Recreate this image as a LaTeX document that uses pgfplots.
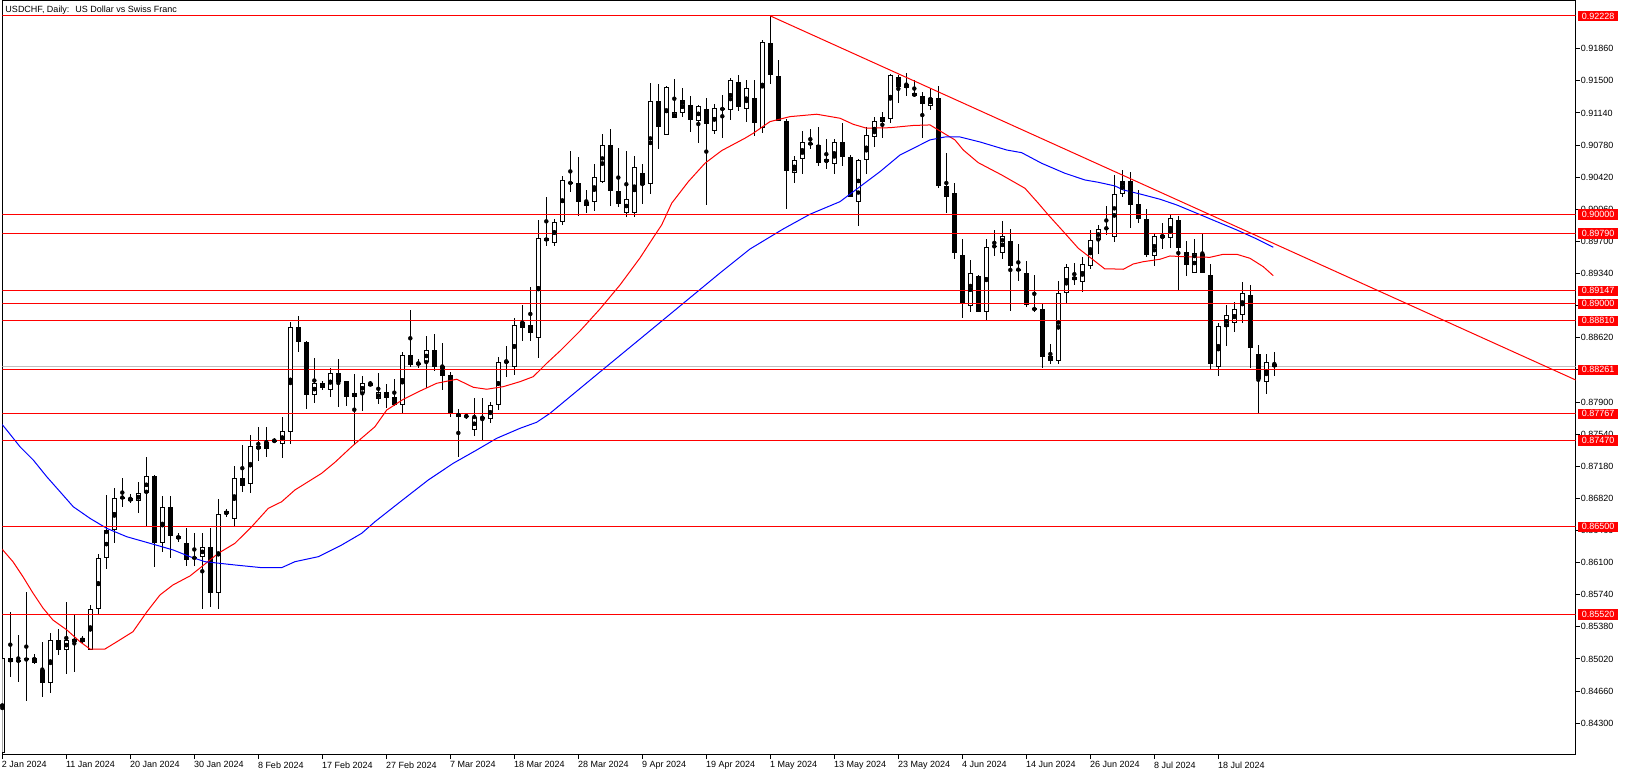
\documentclass[border=0pt]{standalone}
\usepackage{fontspec}
\setmainfont{Liberation Sans}
\usepackage{pgfplots}
\usepackage{pgfplotstable}
\pgfplotsset{compat=1.18}
\pgfplotstableread{
x O H L C
0 0.83970 0.85040 0.83900 0.85027
1 0.85027 0.85542 0.84820 0.84982
2 0.85007 0.85288 0.84764 0.84993
3 0.85004 0.85767 0.84551 0.85027
4 0.85027 0.85075 0.84963 0.84970
5 0.84895 0.85209 0.84596 0.84753
6 0.84753 0.85310 0.84641 0.85228
7 0.85228 0.85352 0.85063 0.85123
8 0.85123 0.85654 0.84854 0.85228
9 0.85240 0.85515 0.84876 0.85213
10 0.85209 0.85277 0.85195 0.85251
11 0.85123 0.85624 0.85123 0.85583
12 0.85583 0.86197 0.85523 0.86149
13 0.86149 0.86858 0.86032 0.86466
14 0.86466 0.86933 0.86323 0.86821
15 0.86836 0.87045 0.86727 0.86824
16 0.86821 0.86866 0.86765 0.86791
17 0.86794 0.87000 0.86660 0.86877
18 0.86877 0.87284 0.86502 0.87068
19 0.87068 0.87082 0.86054 0.86323
20 0.86323 0.86847 0.86222 0.86720
21 0.86720 0.86847 0.86155 0.86402
22 0.86398 0.86435 0.86328 0.86368
23 0.86318 0.86491 0.86066 0.86134
24 0.86168 0.86429 0.86066 0.86138
25 0.86168 0.86429 0.85576 0.86272
26 0.86272 0.86485 0.85605 0.85763
27 0.85763 0.86810 0.85576 0.86642
28 0.86642 0.86698 0.86615 0.86675
29 0.86592 0.87183 0.86502 0.87045
30 0.87045 0.87422 0.86895 0.86962
31 0.86978 0.87531 0.86877 0.87407
32 0.87407 0.87617 0.87243 0.87370
33 0.87370 0.87620 0.87281 0.87449
34 0.87465 0.87494 0.87444 0.87462
35 0.87426 0.87736 0.87269 0.87572
36 0.87561 0.88801 0.87426 0.88738
37 0.88738 0.88868 0.88464 0.88570
38 0.88570 0.88588 0.87822 0.87982
39 0.87982 0.88390 0.87893 0.88110
40 0.88110 0.88136 0.88035 0.88061
41 0.88032 0.88278 0.87960 0.88222
42 0.88222 0.88379 0.87848 0.88128
43 0.88136 0.88136 0.87859 0.87960
44 0.87960 0.88211 0.87419 0.87998
45 0.87998 0.88192 0.87803 0.88110
46 0.88110 0.88136 0.88083 0.88083
47 0.87931 0.88222 0.87875 0.88013
48 0.88013 0.88099 0.87837 0.87949
49 0.87953 0.88155 0.87856 0.87864
50 0.87864 0.88461 0.87781 0.88424
51 0.88424 0.88932 0.88296 0.88319
52 0.88332 0.88383 0.88282 0.88329
53 0.88352 0.88640 0.88054 0.88480
54 0.88480 0.88663 0.88248 0.88296
55 0.88301 0.88562 0.88035 0.88195
56 0.88203 0.88234 0.87729 0.87763
57 0.87774 0.87819 0.87288 0.87736
58 0.87741 0.87774 0.87710 0.87739
59 0.87583 0.87942 0.87523 0.87729
60 0.87729 0.87942 0.87475 0.87721
61 0.87705 0.87897 0.87661 0.87864
62 0.87864 0.88409 0.87811 0.88352
63 0.88357 0.88528 0.88184 0.88341
64 0.88290 0.88839 0.88203 0.88760
65 0.88727 0.88991 0.88588 0.88797
66 0.88764 0.89187 0.88588 0.88677
67 0.88615 0.89941 0.88390 0.89736
68 0.89736 0.90202 0.89649 0.89709
69 0.89683 0.89949 0.89649 0.89922
70 0.89922 0.90437 0.89885 0.90386
71 0.90367 0.90714 0.90258 0.90348
72 0.90356 0.90647 0.89989 0.90146
73 0.90143 0.90277 0.90023 0.90101
74 0.90146 0.90568 0.90045 0.90419
75 0.90370 0.90905 0.90359 0.90778
76 0.90778 0.90961 0.90098 0.90269
77 0.90265 0.90748 0.90086 0.90124
78 0.90023 0.90711 0.89974 0.90173
79 0.90023 0.90658 0.89974 0.90532
80 0.90464 0.90568 0.90120 0.90337
81 0.90341 0.91476 0.90236 0.91271
82 0.91271 0.91462 0.90740 0.90987
83 0.90897 0.91446 0.90894 0.91428
84 0.91081 0.91518 0.91081 0.91148
85 0.91137 0.91417 0.91092 0.91283
86 0.91226 0.91327 0.90931 0.91065
87 0.91047 0.91226 0.90807 0.91215
88 0.91185 0.91308 0.90109 0.91020
89 0.90942 0.91241 0.90905 0.91193
90 0.91186 0.91345 0.90863 0.91184
91 0.91170 0.91529 0.91062 0.91507
92 0.91484 0.91566 0.91163 0.91204
93 0.91182 0.91507 0.91043 0.91417
94 0.91305 0.91507 0.90886 0.91031
95 0.90976 0.91959 0.90919 0.91933
96 0.91922 0.92228 0.91462 0.91563
97 0.91555 0.91734 0.91051 0.91051
98 0.91051 0.91073 0.90061 0.90487
99 0.90463 0.90662 0.90356 0.90610
100 0.90621 0.90939 0.90452 0.90819
101 0.90807 0.90961 0.90733 0.90789
102 0.90778 0.90980 0.90550 0.90583
103 0.90587 0.90845 0.90512 0.90621
104 0.90564 0.90849 0.90456 0.90811
105 0.90815 0.91025 0.90546 0.90643
106 0.90643 0.90670 0.90199 0.90202
107 0.90146 0.90621 0.89877 0.90610
108 0.90610 0.90987 0.90456 0.90890
109 0.90868 0.91092 0.90762 0.91051
110 0.91036 0.91155 0.90863 0.91092
111 0.91073 0.91581 0.91025 0.91563
112 0.91544 0.91566 0.91256 0.91428
113 0.91420 0.91585 0.91334 0.91465
114 0.91364 0.91510 0.91320 0.91327
115 0.91334 0.91379 0.90856 0.91238
116 0.91219 0.91420 0.91174 0.91312
117 0.91308 0.91443 0.90299 0.90322
118 0.90322 0.90688 0.90023 0.90202
119 0.90240 0.90356 0.89500 0.89567
120 0.89545 0.89725 0.88839 0.89014
121 0.88977 0.89492 0.88913 0.89343
122 0.89313 0.89324 0.88909 0.88913
123 0.88913 0.89725 0.88812 0.89642
124 0.89647 0.89829 0.89538 0.89645
125 0.89567 0.89930 0.89500 0.89758
126 0.89703 0.89836 0.88924 0.89426
127 0.89396 0.89672 0.89261 0.89373
128 0.89343 0.89478 0.88969 0.88985
129 0.88951 0.89320 0.88906 0.88935
130 0.88943 0.89014 0.88278 0.88409
131 0.88413 0.88551 0.88326 0.88364
132 0.88357 0.89257 0.88322 0.89119
133 0.89119 0.89447 0.89014 0.89410
134 0.89302 0.89455 0.89212 0.89272
135 0.89246 0.89526 0.89130 0.89443
136 0.89426 0.89829 0.89396 0.89716
137 0.89713 0.89881 0.89563 0.89843
138 0.89848 0.90098 0.89773 0.89846
139 0.89754 0.90445 0.89698 0.90232
140 0.90232 0.90501 0.90195 0.90378
141 0.90378 0.90479 0.89855 0.90112
142 0.90120 0.90277 0.89913 0.89949
143 0.89949 0.90064 0.89530 0.89552
144 0.89534 0.89780 0.89425 0.89758
145 0.89736 0.89904 0.89616 0.89769
146 0.89736 0.89997 0.89630 0.89960
147 0.89941 0.89986 0.89156 0.89630
148 0.89582 0.89705 0.89316 0.89440
149 0.89349 0.89728 0.89343 0.89567
150 0.89556 0.89787 0.89343 0.89349
151 0.89324 0.89447 0.88270 0.88330
152 0.88296 0.88790 0.88195 0.88752
153 0.88738 0.88991 0.88532 0.88873
154 0.88783 0.89018 0.88689 0.88940
155 0.88880 0.89246 0.88790 0.89119
156 0.89097 0.89208 0.88285 0.88509
157 0.88435 0.88536 0.87766 0.88155
158 0.88122 0.88438 0.87991 0.88352
159 0.88326 0.88457 0.88195 0.88296
}\candles
\pgfplotstableread{
x y
-0.5 0.86300
1.33 0.86110
2.58 0.85942
3.83 0.85759
5.08 0.85591
6.33 0.85456
8.08 0.85344
9.71 0.85213
10.96 0.85131
12.83 0.85131
14.33 0.85213
16.33 0.85325
18.08 0.85549
19.71 0.85737
21.33 0.85849
23.46 0.85950
24.92 0.86054
27.00 0.86204
29.08 0.86316
31.17 0.86502
33.25 0.86708
34.92 0.86782
36.58 0.86914
39.92 0.87101
41.58 0.87224
43.67 0.87399
46.58 0.87623
48.05 0.87810
50.12 0.87930
52.21 0.88023
54.30 0.88110
56.80 0.88155
58.87 0.88065
60.55 0.88043
62.62 0.88072
64.71 0.88128
66.37 0.88184
68.05 0.88334
69.71 0.88472
72.21 0.88696
74.71 0.88943
77.21 0.89212
79.71 0.89515
81.58 0.89772
82.42 0.89885
83.67 0.90128
85.75 0.90370
87.83 0.90576
89.92 0.90718
92.83 0.90857
93.87 0.90913
95.96 0.91043
98.46 0.91099
101.80 0.91126
104.71 0.91081
106.37 0.91013
108.05 0.90969
110.96 0.90975
113.87 0.91000
115.96 0.91006
119.08 0.90838
120.12 0.90725
121.99 0.90583
124.92 0.90445
127.83 0.90296
129.50 0.90128
130.75 0.89997
132.83 0.89791
134.50 0.89623
137.83 0.89391
139.08 0.89391
140.12 0.89388
141.37 0.89447
142.62 0.89473
144.71 0.89500
145.96 0.89537
147.62 0.89529
150.96 0.89522
152.62 0.89556
154.30 0.89556
155.96 0.89511
157.62 0.89417
158.87 0.89316
}\mared
\pgfplotstableread{
x y
-0.5 0.87700
0.55 0.87586
2.21 0.87399
3.87 0.87250
5.55 0.87063
7.21 0.86895
8.87 0.86726
10.96 0.86596
13.05 0.86484
15.55 0.86390
18.46 0.86316
21.37 0.86241
23.46 0.86166
25.33 0.86110
29.08 0.86073
32.42 0.86043
34.92 0.86043
36.58 0.86110
39.50 0.86166
42.42 0.86297
44.92 0.86428
46.58 0.86558
49.71 0.86779
53.25 0.87026
56.37 0.87213
59.30 0.87362
61.80 0.87493
64.71 0.87605
66.80 0.87673
68.46 0.87773
69.71 0.87866
74.71 0.88237
79.71 0.88606
84.71 0.88976
89.71 0.89346
93.46 0.89615
97.62 0.89840
100.96 0.90005
104.71 0.90146
107.21 0.90314
109.71 0.90482
112.21 0.90669
115.96 0.90838
117.83 0.90871
119.71 0.90871
122.21 0.90815
125.55 0.90725
127.42 0.90695
129.92 0.90576
132.83 0.90464
135.33 0.90389
137.00 0.90363
139.08 0.90322
140.12 0.90277
142.21 0.90232
144.71 0.90173
146.80 0.90109
149.30 0.90016
151.80 0.89922
154.30 0.89829
156.80 0.89728
158.87 0.89635
}\mablue
\begin{document}
\begin{tikzpicture}
\useasboundingbox (0,0) rectangle (1628pt,776pt);
\begin{axis}[
  at={(2.3pt,21pt)}, anchor=south west,
  scale only axis, width=1573.4pt, height=754.5pt,
  xmin=0, xmax=196.67, ymin=0.83943, ymax=0.92401,
  scaled ticks=false,
  axis line style={black, line width=1pt},
  tick style={black, line width=1pt},
  tick align=outside, major tick length=4pt,
  xtick pos=left, ytick pos=right,
  xtick={0,8,...,152},
  xticklabels={2 Jan 2024, 11 Jan 2024, 20 Jan 2024, 30 Jan 2024, 8 Feb 2024, 17 Feb 2024, 27 Feb 2024, 7 Mar 2024, 18 Mar 2024, 28 Mar 2024, 9 Apr 2024, 19 Apr 2024, 1 May 2024, 13 May 2024, 23 May 2024, 4 Jun 2024, 14 Jun 2024, 26 Jun 2024, 8 Jul 2024, 18 Jul 2024},
  xticklabel style={anchor=north west, inner sep=0pt, xshift=-0.5pt, yshift=-2.5pt, font=\fontsize{9}{10}\selectfont},
  ytick={0.8430,0.8466,0.8502,0.8538,0.8574,0.8610,0.8646,0.8682,0.8718,0.8754,0.8790,0.8826,0.8862,0.8898,0.8934,0.8970,0.9006,0.9042,0.9078,0.9114,0.9150,0.9186},
  yticklabels={0.84300,0.84660,0.85020,0.85380,0.85740,0.86100,0.86460,0.86820,0.87180,0.87540,0.87900,0.88260,0.88620,0.88980,0.89340,0.89700,0.90060,0.90420,0.90780,0.91140,0.91500,0.91860},
  yticklabel style={anchor=west, inner sep=0pt, xshift=1pt, font=\fontsize{9}{10}\selectfont},
  extra y ticks={0.92228,0.90000,0.89790,0.89147,0.89000,0.88810,0.88261,0.87767,0.87470,0.86500,0.85520},
  extra y tick labels={0.92228,0.90000,0.89790,0.89147,0.89000,0.88810,0.88261,0.87767,0.87470,0.86500,0.85520},
  extra y tick style={tick style={draw=none}, yticklabel style={fill=red, text=white, inner xsep=3.5pt, inner ysep=2pt, xshift=-2.5pt}},
]
% current price line
\addplot[gray!50, line width=1pt] coordinates {(0,0.88296) (196.67,0.88296)};
% wicks
\addplot[only marks, mark=none, error bars/.cd, y dir=both, y explicit, error mark=none,
  error bar style={draw=black, line width=1pt}]
  table[x=x, y expr={(\thisrow{H}+\thisrow{L})/2}, y error expr={(\thisrow{H}-\thisrow{L})/2}] {\candles};
% bodies
\addplot[only marks, mark=none, error bars/.cd, y dir=both, y explicit, error mark=none,
  error bar style={draw=black, line width=5pt, line cap=butt}]
  table[x=x, y expr={(\thisrow{O}+\thisrow{C})/2}, y error expr={max(abs(\thisrow{C}-\thisrow{O})/2,0.00006)}] {\candles};
% white insides of bullish candles
\addplot[only marks, mark=none, restrict expr to domain={\thisrow{C}-\thisrow{O}}{0.00025:1},
  error bars/.cd, y dir=both, y explicit, error mark=none,
  error bar style={draw=white, line width=3pt, line cap=butt}]
  table[x=x, y expr={(\thisrow{O}+\thisrow{C})/2}, y error expr={(\thisrow{C}-\thisrow{O})/2-0.000112}] {\candles};
% moving averages
\addplot[red, line width=1pt] table[x=x, y=y] {\mared};
\addplot[blue, line width=1pt] table[x=x, y=y] {\mablue};
% horizontal red levels
\addplot[red, line width=1pt] coordinates {(0,0.92228) (196.67,0.92228)};
\addplot[red, line width=1pt] coordinates {(0,0.90000) (196.67,0.90000)};
\addplot[red, line width=1pt] coordinates {(0,0.89790) (196.67,0.89790)};
\addplot[red, line width=1pt] coordinates {(0,0.89147) (196.67,0.89147)};
\addplot[red, line width=1pt] coordinates {(0,0.89000) (196.67,0.89000)};
\addplot[red, line width=1pt] coordinates {(0,0.88810) (196.67,0.88810)};
\addplot[red, line width=1pt] coordinates {(0,0.88261) (196.67,0.88261)};
\addplot[red, line width=1pt] coordinates {(0,0.87767) (196.67,0.87767)};
\addplot[red, line width=1pt] coordinates {(0,0.87470) (196.67,0.87470)};
\addplot[red, line width=1pt] coordinates {(0,0.86500) (196.67,0.86500)};
\addplot[red, line width=1pt] coordinates {(0,0.85520) (196.67,0.85520)};
% trend line
\addplot[red, line width=1pt] coordinates {(96,0.92228) (196.67,0.88147)};
\node[anchor=west, inner sep=0pt, font=\fontsize{9}{10}\selectfont] at (rel axis cs:0,1) [xshift=3pt, yshift=-9.5pt] {USDCHF, Daily:~ US Dollar vs Swiss Franc};
\end{axis}
\end{tikzpicture}
\end{document}
